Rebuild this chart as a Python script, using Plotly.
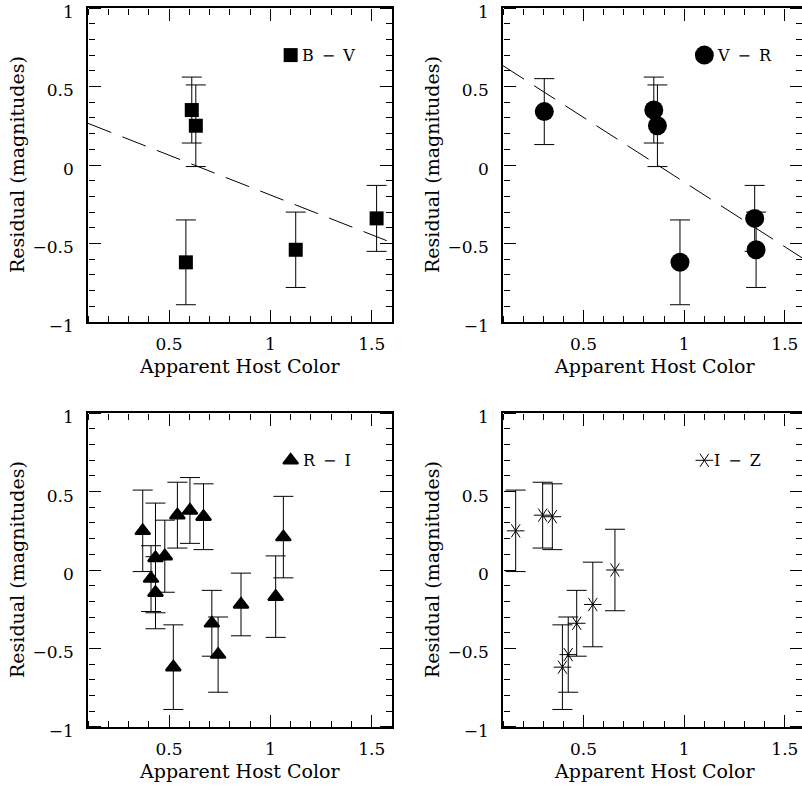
import plotly.graph_objects as go

FONT = "DejaVu Serif"

# ---- data: residual vs. apparent host colour, one set per colour index ----
bv_color = [0.612, 0.632, 0.583, 1.125, 1.524]
bv_resid = [0.35, 0.25, -0.62, -0.54, -0.34]
bv_err = [0.21, 0.26, 0.27, 0.24, 0.21]

vr_color = [0.305, 0.849, 0.867, 0.979, 1.350, 1.357]
vr_resid = [0.34, 0.35, 0.25, -0.62, -0.34, -0.54]
vr_err = [0.21, 0.21, 0.26, 0.27, 0.21, 0.24]

ri_color = [0.370, 0.411, 0.433, 0.433, 0.479, 0.521, 0.541, 0.603,
            0.670, 0.711, 0.742, 0.855, 1.026, 1.064]
ri_resid = [0.25, -0.055, 0.077, -0.145, 0.088, -0.62, 0.35, 0.38,
            0.34, -0.34, -0.54, -0.22, -0.17, 0.21]
ri_err = [0.26, 0.21, 0.35, 0.23, 0.23, 0.27, 0.21, 0.21,
          0.21, 0.21, 0.24, 0.20, 0.26, 0.26]

iz_color = [0.163, 0.297, 0.345, 0.395, 0.424, 0.466, 0.546, 0.656]
iz_resid = [0.25, 0.35, 0.34, -0.62, -0.54, -0.34, -0.22, 0.0]
iz_err = [0.26, 0.21, 0.21, 0.27, 0.24, 0.21, 0.27, 0.26]

# linear fits (intercept, slope) for the two top panels
fit_bv = (0.316, -0.507)
fit_vr = (0.715, -0.824)

# key entries: label and where its symbol sits in data units
key_labels = ["B\u2002\u2212\u2002V", "V\u2002\u2212\u2002R",
              "R\u2002\u2212\u2002I", "I\u2002\u2212\u2002Z"]
key_pos = (1.1, 0.7)

x_range_left = [0.1, 1.6]
x_range_right = [0.1, 1.585]
y_range = [-1, 1]

W, H = 802, 789
dom_x_left = [88 / W, 392 / W]
dom_x_right = [503 / W, 1.0]
dom_y_top = [1 - 322 / H, 1 - 8 / H]
dom_y_bot = [1 - 726.7 / H, 1 - 413.3 / H]

fig = go.Figure()

err_style = dict(type="data", visible=True, color="black", thickness=1, width=10)


def add_points(xs, ys, es, marker, ax):
    fig.add_trace(go.Scatter(
        x=xs, y=ys, mode="markers", marker=marker,
        error_y=dict(array=es, **err_style),
        xaxis="x" + ax, yaxis="y" + ax, hoverinfo="skip"))
    fig.add_trace(go.Scatter(
        x=[key_pos[0]], y=[key_pos[1]], mode="markers", marker=marker,
        xaxis="x" + ax, yaxis="y" + ax, hoverinfo="skip"))


def add_fit(fit, ax):
    xs = list(x_range_left)
    ys = [fit[0] + fit[1] * v for v in xs]
    fig.add_trace(go.Scatter(
        x=xs, y=ys, mode="lines",
        line=dict(color="black", width=1, dash="25px,12px"),
        xaxis="x" + ax, yaxis="y" + ax, hoverinfo="skip"))


add_fit(fit_bv, "")
add_points(bv_color, bv_resid, bv_err,
           dict(symbol="square", size=14, color="black", line=dict(width=0)), "")

add_fit(fit_vr, "2")
add_points(vr_color, vr_resid, vr_err,
           dict(symbol="circle", size=19, color="black", line=dict(width=0)), "2")

add_points(ri_color, ri_resid, ri_err,
           dict(symbol="triangle-up", size=13, color="black",
                line=dict(width=2, color="black")), "3")

# six-armed asterisk built from two three-armed symbols
add_points(iz_color, iz_resid, iz_err,
           dict(symbol="y-left-open", size=11, color="black", line=dict(width=1)), "4")
fig.add_trace(go.Scatter(
    x=iz_color + [key_pos[0]], y=iz_resid + [key_pos[1]], mode="markers",
    marker=dict(symbol="y-right-open", size=11, color="black", line=dict(width=1)),
    xaxis="x4", yaxis="y4", hoverinfo="skip"))

tickfont = dict(family=FONT, size=17, color="black")


def label_axis(dom, rng, anchor, is_y):
    # frame line and numbers; the tick marks come from the edge axes below
    d = dict(domain=dom, range=rng, anchor=anchor, showgrid=False, zeroline=False,
             showline=True, linecolor="black", linewidth=1.5, mirror=True,
             ticks="", tick0=0, dtick=0.5, tickfont=tickfont,
             ticklabeloverflow="allow", fixedrange=True)
    if is_y:
        d.update(ticklabelstandoff=9, ticklabelshift=4)
    else:
        d.update(ticklabelstandoff=6)
    return d


def edge_axis(rng, over, pos, side):
    # one frame edge: ticks every 0.5 (long) and 0.1 (short), pointing into the panel
    return dict(range=rng, overlaying=over, anchor="free", position=pos, side=side,
                showgrid=False, zeroline=False, showline=False, showticklabels=False,
                ticks="outside", ticklen=12, tickwidth=1, tickcolor="black",
                tick0=0, dtick=0.5,
                minor=dict(dtick=0.1, tick0=0, ticks="outside", ticklen=6,
                           tickwidth=1, tickcolor="black", showgrid=False),
                fixedrange=True)


panels = [("", dom_x_left, x_range_left, dom_y_top),
          ("2", dom_x_right, x_range_right, dom_y_top),
          ("3", dom_x_left, x_range_left, dom_y_bot),
          ("4", dom_x_right, x_range_right, dom_y_bot)]

layout_axes = {}
for k, (ax, xd, xr, yd) in enumerate(panels):
    layout_axes["xaxis" + ax] = label_axis(xd, xr, "y" + ax, False)
    layout_axes["yaxis" + ax] = label_axis(yd, y_range, "x" + ax, True)
    a, b = str(5 + 2 * k), str(6 + 2 * k)
    layout_axes["xaxis" + a] = edge_axis(xr, "x" + ax, yd[0], "top")
    layout_axes["xaxis" + b] = edge_axis(xr, "x" + ax, yd[1], "bottom")
    layout_axes["yaxis" + a] = edge_axis(y_range, "y" + ax, xd[0], "right")
    layout_axes["yaxis" + b] = edge_axis(y_range, "y" + ax, xd[1], "left")
    for xa, ya in [(a, ax), (b, ax), (ax, a), (ax, b)]:
        fig.add_trace(go.Scatter(x=[], y=[], xaxis="x" + xa, yaxis="y" + ya,
                                 mode="markers", hoverinfo="skip"))

fig.update_layout(
    width=W, height=H,
    margin=dict(l=0, r=0, t=0, b=0),
    paper_bgcolor="white", plot_bgcolor="white",
    showlegend=False, template="none",
    **layout_axes,
)

annotations = []
title_font = dict(family=FONT, size=19, color="black")
key_font = dict(family=FONT, size=16, color="black")
key_shift = [9, 11, 10, 8]
for i, (ax, *_rest) in enumerate(panels):
    annotations.append(dict(
        x=key_pos[0], y=key_pos[1], xref="x" + ax, yref="y" + ax,
        text=key_labels[i], showarrow=False, xanchor="left", yanchor="middle",
        xshift=key_shift[i], font=key_font))

# axis titles
for cx, ydom in [(240, dom_y_top), (655, dom_y_top), (240, dom_y_bot), (655, dom_y_bot)]:
    annotations.append(dict(
        x=cx / W, y=ydom[0] - 44 / H, xref="paper", yref="paper",
        text="Apparent Host Color", showarrow=False,
        xanchor="center", yanchor="middle", font=title_font))
for lx, ydom in [(17, dom_y_top), (432, dom_y_top), (17, dom_y_bot), (432, dom_y_bot)]:
    annotations.append(dict(
        x=lx / W, y=(ydom[0] + ydom[1]) / 2, xref="paper", yref="paper",
        text="Residual (magnitudes)", showarrow=False, textangle=-90,
        xanchor="center", yanchor="middle", font=title_font))

fig.update_layout(annotations=annotations)

fig.write_html("out.html")
